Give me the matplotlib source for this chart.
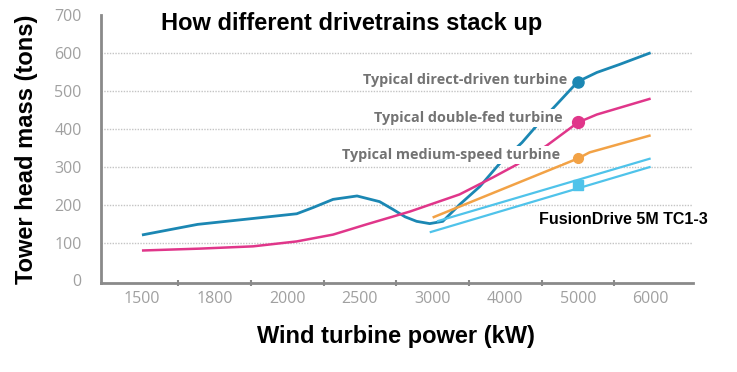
import numpy as np
import matplotlib
matplotlib.use("Agg")
import matplotlib.pyplot as plt

# category positions on the x axis (the axis is not linear in kW)
kw_cats = [1500, 1800, 2000, 2500, 3000, 4000, 5000, 6000]
y_ticks = [0, 100, 200, 300, 400, 500, 600, 700]
grid_vals = [100, 200, 300, 400, 500, 600]

# curves: (kW, tons)
direct_kw = [1500, 1730, 1900, 2065, 2175, 2315, 2480, 2635, 2725, 2810, 2890, 2980,
             3140, 3370, 3650, 3920, 4230, 4470, 4680, 5000, 5260, 5570, 6000]
direct_t = [120, 148, 163, 176, 192, 214, 223, 208, 188, 168, 156, 150,
            156, 200, 248, 308, 364, 417, 459, 525, 549, 570, 601]

dfed_kw = [1500, 1740, 1906, 2065, 2315, 2545, 2845, 3370, 3830, 4160, 4570,
           5000, 5260, 6000]
dfed_t = [79, 84, 90, 103, 121, 148, 182, 227, 272, 306, 356, 417, 438, 480]

medium_kw = [3000, 5000, 5160, 6000]
medium_t = [166, 322, 338, 383]

fusion_hi_kw = [3060, 6000]
fusion_hi_t = [156, 322]
fusion_lo_kw = [2980, 6000]
fusion_lo_t = [127, 300]

# highlighted 5 MW points
mark_kw = 5000
direct_mark = 525
dfed_mark = 417
medium_mark = 322
fusion_mark = 253

c_direct = "#1b87b3"
c_dfed = "#e0368a"
c_medium = "#f2a246"
c_fusion = "#4fc3ea"
c_axis = "#8a8a8a"


def to_pos(x):
    x = np.asarray(x, dtype=float)
    pos = np.interp(x, kw_cats, np.arange(len(kw_cats)))
    pos = np.where(x < kw_cats[0], (x - kw_cats[0]) / (kw_cats[1] - kw_cats[0]), pos)
    pos = np.where(x > kw_cats[-1],
                   len(kw_cats) - 1 + (x - kw_cats[-1]) / (kw_cats[-1] - kw_cats[-2]), pos)
    return pos


def from_pos(p):
    p = np.asarray(p, dtype=float)
    x = np.interp(p, np.arange(len(kw_cats)), kw_cats)
    x = np.where(p < 0, kw_cats[0] + p * (kw_cats[1] - kw_cats[0]), x)
    x = np.where(p > len(kw_cats) - 1,
                 kw_cats[-1] + (p - len(kw_cats) + 1) * (kw_cats[-1] - kw_cats[-2]), x)
    return x


fig = plt.figure(figsize=(7.37, 3.72), dpi=100)
ax = fig.add_axes([0.137, 0.239, 0.803, 0.720])
ax.set_xscale("function", functions=(to_pos, from_pos))

for v in grid_vals:
    ax.axhline(v, color="#c4c4c4", lw=1.0, ls=(0, (1, 1)), zorder=1)

line_kw = dict(solid_capstyle="butt", solid_joinstyle="round", zorder=2)
ax.plot(direct_kw, direct_t, color=c_direct, lw=2.0, **line_kw)
ax.plot(dfed_kw, dfed_t, color=c_dfed, lw=1.8, **line_kw)
ax.plot(medium_kw, medium_t, color=c_medium, lw=1.8, **line_kw)
ax.plot(fusion_hi_kw, fusion_hi_t, color=c_fusion, lw=1.6, **line_kw)
ax.plot(fusion_lo_kw, fusion_lo_t, color=c_fusion, lw=1.6, **line_kw)

ax.plot([mark_kw], [direct_mark], "o", color=c_direct, ms=8, zorder=4)
ax.plot([mark_kw], [dfed_mark], "o", color=c_dfed, ms=8.5, zorder=4)
ax.plot([mark_kw], [medium_mark], "o", color=c_medium, ms=7, zorder=4)
ax.plot([mark_kw], [fusion_mark], "s", color=c_fusion, ms=6.5, zorder=4)

lbl = dict(ha="right", va="center", fontsize=10.4, fontweight="bold", color="#737373",
           family="Open Sans", zorder=3,
           bbox=dict(facecolor="white", edgecolor="none", pad=1.5))
ax.text(4850, 530, "Typical direct-driven turbine", **lbl)
ax.text(4790, 430, "Typical double-fed turbine", **lbl)
ax.text(4750, 332, "Typical medium-speed turbine", **lbl)

ax.text(4470, 161, "FusionDrive 5M TC1-3", ha="left", va="center", fontsize=11.5,
        fontweight="bold", family="Liberation Sans", color="black")

ax.set_xlim(from_pos(-0.564), from_pos(7.58))
ax.set_ylim(-7, 700)

ax.set_xticks(kw_cats)
ax.set_xticklabels([str(k) for k in kw_cats])
ax.set_xticks(from_pos(np.arange(0.5, 7.0, 1.0)), minor=True)
ax.set_yticks(y_ticks)
ax.set_yticklabels([str(v) for v in y_ticks])

ax.tick_params(axis="x", which="major", length=0, pad=6, labelsize=11.5, labelcolor="#a0a0a0")
ax.tick_params(axis="x", which="minor", length=5, width=1.5, direction="inout", color=c_axis)
ax.tick_params(axis="y", length=0, pad=14, labelsize=11.5, labelcolor="#a0a0a0")
for t in ax.get_xticklabels() + ax.get_yticklabels():
    t.set_family("Open Sans")

for s in ["top", "right"]:
    ax.spines[s].set_visible(False)
for s in ["left", "bottom"]:
    ax.spines[s].set_color(c_axis)
    ax.spines[s].set_linewidth(2)

fig.text(352 / 737, 1 - 30 / 372, "How different drivetrains stack up", ha="center",
         va="baseline", fontsize=17, fontweight="bold", family="Liberation Sans")
fig.text(396 / 737, 1 - 343 / 372, "Wind turbine power (kW)", ha="center",
         va="baseline", fontsize=17, fontweight="bold", family="Liberation Sans")
fig.text(27 / 737, 1 - 149 / 372, "Tower head mass (tons)", ha="center", va="center",
         rotation=90, fontsize=17, fontweight="bold", family="Liberation Sans")

fig.savefig("out.png", dpi=100)
